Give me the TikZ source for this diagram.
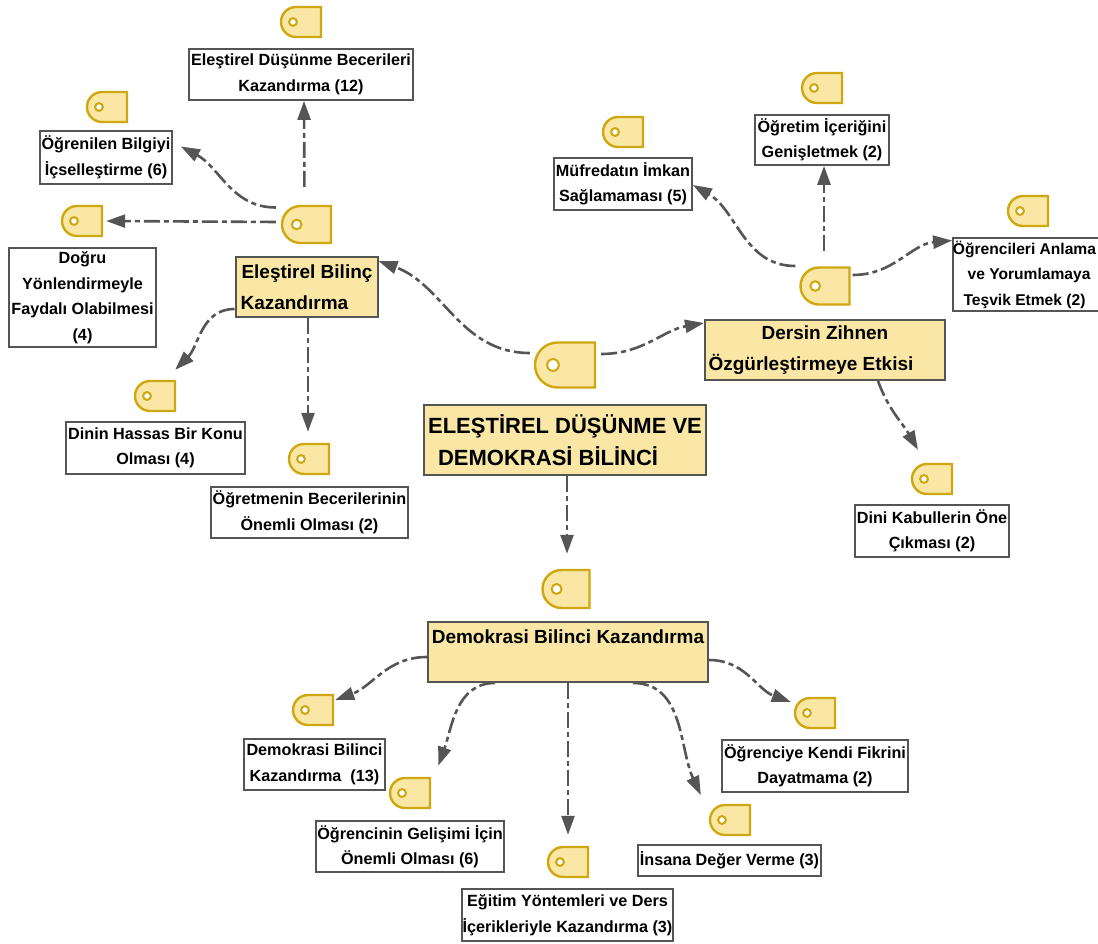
\documentclass[tikz,border=0pt]{standalone}
\usepackage{fontspec}
\setmainfont{Liberation Sans}
\usetikzlibrary{arrows.meta,shapes.misc}
\definecolor{boxfill}{HTML}{FAE7A5}
\definecolor{tagline}{HTML}{CFA710}
\definecolor{linkgray}{HTML}{555555}
\tikzset{
  tagicon/.style 2 args={draw=tagline,fill=boxfill,line width=2.4pt,rounded rectangle,rounded rectangle right arc=none,inner sep=0pt,
    minimum width=#1,minimum height=#2,
    path picture={\draw[tagline,fill=white,line width=2pt] ([xshift=0.3*#1]path picture bounding box.west) circle (0.13*#2);}},
  smalltag/.style={tagicon={40pt}{30pt}},
  midtag/.style={tagicon={49pt}{37pt}},
  leaf/.style 2 args={draw=linkgray,fill=white,line width=1.8pt,inner sep=0pt,align=center,minimum width=#1,minimum height=#2,
    font=\fontsize{16.2}{25.5}\selectfont\bfseries},
  topic/.style 2 args={draw=linkgray,fill=boxfill,line width=2pt,inner sep=0pt,minimum width=#1,minimum height=#2,
    font=\fontsize{19}{31}\selectfont\bfseries},
  link/.style={draw=linkgray,line width=2.6pt,dash pattern=on 16pt off 4pt on 5pt off 4pt,-{Triangle[length=19pt,width=13pt]}},
}
\begin{document}
\begin{tikzpicture}[x=1pt,y=1pt]
\useasboundingbox (0,0) rectangle (1098,943);
\clip (0,0) rectangle (1098,943);
% tags
\node[smalltag] (toptag) at (301,921) {};
\node[smalltag] (learntag) at (107,836) {};
\node[smalltag] (guidetag) at (82,722) {};
\node[midtag] (crittag) at (306.5,718.5) {};
\node[smalltag] (sensetag) at (155,547) {};
\node[smalltag] (teachtag) at (309,484) {};
\node[tagicon={60pt}{45pt}] (maintag) at (565,578) {};
\node[smalltag] (plantag) at (623,811) {};
\node[smalltag] (scopetag) at (822,855) {};
\node[smalltag] (readtag) at (1028,732) {};
\node[midtag] (mindtag) at (825,657) {};
\node[smalltag] (dogmatag) at (932,464) {};
\node[tagicon={47pt}{38pt}] (demotag) at (566,354) {};
\node[smalltag] (gaintag) at (313,233) {};
\node[smalltag] (growtag) at (410,150) {};
\node[smalltag] (methodtag) at (568,81) {};
\node[smalltag] (valuetag) at (730,123) {};
\node[smalltag] (opiniontag) at (815,230) {};
% boxes
\node[leaf={224pt}{51pt}] (skill) at (301,868.5) {Eleştirel Düşünme Becerileri\\Kazandırma (12)};
\node[leaf={132pt}{53pt}] (learn) at (106,785.5) {Öğrenilen Bilgiyi\\İçselleştirme (6)};
\node[leaf={147pt}{99pt}] (guide) at (82.5,645.5) {Doğru\\Yönlendirmeyle\\Faydalı Olabilmesi\\(4)};
\node[topic={142pt}{60pt},align=left] (crit) at (306.5,656) {\hspace*{1pt}Eleştirel Bilinç\\Kazandırma};
\node[leaf={179pt}{52pt}] (sense) at (155.5,495) {Dinin Hassas Bir Konu\\Olması (4)};
\node[leaf={197pt}{51pt}] (teach) at (309.5,430.5) {Öğretmenin Becerilerinin\\Önemli Olması (2)};
\node[topic={282pt}{70pt},align=left,font=\fontsize{22}{32}\selectfont\bfseries] (main) at (565,503) {ELEŞTİREL DÜŞÜNME VE\\\hspace*{10pt}DEMOKRASİ BİLİNCİ};
\node[leaf={138pt}{52pt}] (plan) at (623,759) {Müfredatın İmkan\\Sağlamaması (5)};
\node[leaf={134pt}{50pt}] (scope) at (822,803) {Öğretim İçeriğini\\Genişletmek (2)};
\node[leaf={150pt}{73pt},font=\fontsize{15.6}{25.5}\selectfont\bfseries] (read) at (1029,668.5) {Öğrencileri Anlama\hspace*{9pt}\\ve Yorumlamaya\hspace*{9pt}\\Teşvik Etmek (2)\hspace*{9pt}};
\node[topic={240pt}{60pt},align=center] (mind) at (825,593) {Dersin Zihnen\\Özgürleştirmeye Etkisi\hspace*{28pt}};
\node[leaf={154pt}{52pt}] (dogma) at (932,412) {Dini Kabullerin Öne\\Çıkması (2)};
\node[topic={280pt}{60pt}] (demo) at (568,291) {\raisebox{30pt}{Demokrasi Bilinci Kazandırma}};
\node[leaf={141pt}{51pt}] (gain) at (314.5,178.5) {Demokrasi Bilinci\\Kazandırma\ \ (13)};
\node[leaf={188pt}{51pt}] (grow) at (410,96.5) {Öğrencinin Gelişimi İçin\\Önemli Olması (6)};
\node[leaf={211pt}{52pt}] (method) at (567.5,28) {Eğitim Yöntemleri ve Ders\\İçerikleriyle Kazandırma (3)};
\node[leaf={183pt}{31pt}] (value) at (729.5,82.5) {İnsana Değer Verme (3)};
\node[leaf={186pt}{52pt}] (opinion) at (815,177) {Öğrenciye Kendi Fikrini\\Dayatmama (2)};
% connectors
\draw[link] ([yshift=12pt]maintag.west) ++(-4pt,0) to[out=180,in=-20] ([yshift=26pt]crit.east);
\draw[link] ([yshift=11pt]maintag.east) ++(5pt,0) to[out=0,in=190] ([yshift=27pt]mind.west);
\draw[link,shorten <=18pt] ([xshift=-2pt]crittag.north) -- ([xshift=3pt]skill.south);
\draw[link] ([yshift=17pt]crittag.west) ++(-5pt,0) to[out=180,in=-28] ([xshift=8pt,yshift=11pt]learn.east);
\draw[link] ([xshift=-5pt,yshift=2.5pt]crittag.west) -- ([xshift=3pt]guidetag.east);
\draw[link] ([yshift=-22pt]crit.west) to[out=180,in=45] ([xshift=-1pt,yshift=10pt]sensetag.north east);
\draw[link] ([xshift=1.5pt]crit.south) -- ([xshift=-1pt,yshift=11pt]teachtag.north);
\draw[link] ([yshift=20pt]mindtag.west) ++(-4pt,0) to[out=180,in=-30] ([yshift=-1pt]plan.east);
\draw[link,shorten <=15pt] ([xshift=-1pt]mindtag.north) -- ([xshift=2pt]scope.south);
\draw[link] ([yshift=11pt]mindtag.east) ++(2pt,0) to[out=0,in=185] ([yshift=34pt]read.west);
\draw[link] ([xshift=53pt]mind.south) to[out=-70,in=120] ([xshift=-14pt,yshift=13pt]dogmatag.north);
\draw[link] ([xshift=2pt]main.south) -- ([xshift=1pt,yshift=15pt]demotag.north);
\draw[link] ([yshift=-5pt]demo.west) to[out=180,in=20] ([xshift=1pt,yshift=10pt]gaintag.east);
\draw[link] ([xshift=-73pt]demo.south) to[out=180,in=70] ([xshift=7pt,yshift=11pt]growtag.north east);
\draw[link] (demo.south) -- ([yshift=11pt]methodtag.north);
\draw[link] ([xshift=65pt]demo.south) to[out=0,in=115] ([xshift=-8pt,yshift=25pt]valuetag.west);
\draw[link] ([yshift=-8pt]demo.east) to[out=0,in=160] ([xshift=-3pt,yshift=11pt]opiniontag.west);
\end{tikzpicture}
\end{document}
